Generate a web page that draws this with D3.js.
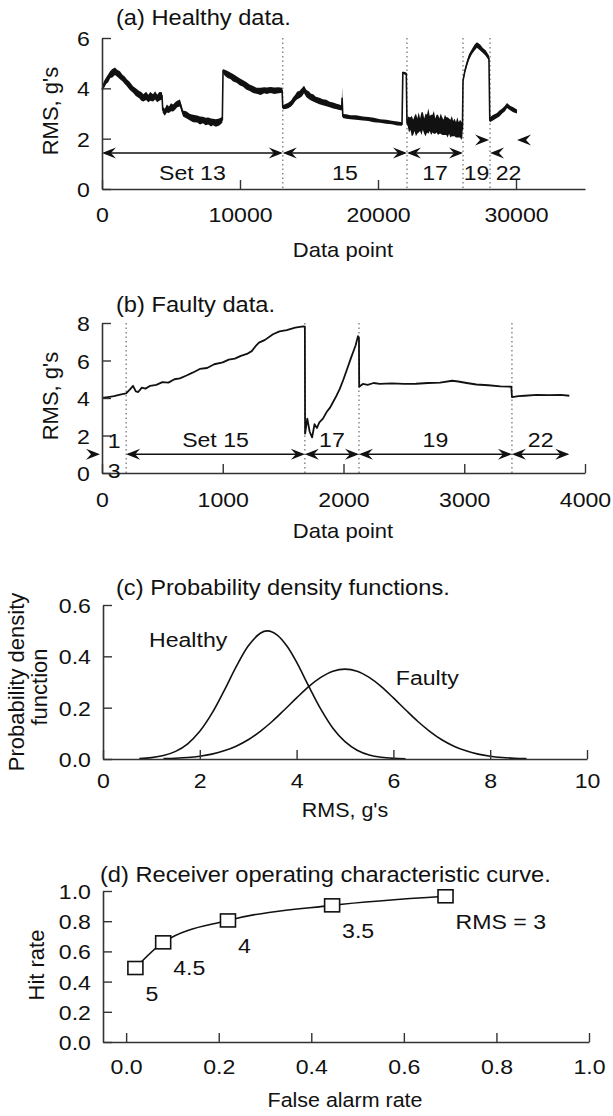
<!DOCTYPE html>
<html><head><meta charset="utf-8">
<script src="https://cdn.jsdelivr.net/npm/d3@7"></script>
<style>
body{margin:0;background:#fff;}
svg text{font-family:"Liberation Sans",Arial,sans-serif;fill:#111;}
</style></head>
<body><svg id="c" width="613" height="1116"></svg>
<script>
// ---------- DATA ----------
// (a) Healthy data: data point, RMS centre, noise half-width
const healthyX = [0,150,300,450,600,750,940,1100,1300,1500,1650,1800,2000,2250,2450,2700,2850,3000,3200,3350,3500,3700,3850,4000,4150,4350,
4400,4550,4700,4850,5000,5150,5300,5450,5650,
5870,6100,6380,6600,6900,7100,7320,7500,7700,7900,8040,8250,8500,8720,
8770,8900,9100,9300,9500,9750,10000,10200,10450,10700,10950,11200,11500,11750,11950,12200,12500,12800,13050,
13100,13300,13500,13700,13840,14000,14150,14300,14500,14640,14800,15000,15150,15300,15500,15750,16000,16250,16500,16750,17000,17200,17370,17400,
17450,17700,18000,18400,18900,19300,19700,20150,20600,21000,21400,21740,21800,22050,22100,
22150,22250,22350,22450,22550,22650,22750,22850,22950,23050,23150,23250,23350,23450,23550,23650,23750,23850,23950,24050,24150,24250,24350,24450,24550,24650,24750,24850,24950,25050,25150,25250,25350,25450,25550,25650,25750,25850,25950,26050,26120,
26160,26300,26450,26600,26800,27000,27170,27400,27600,27800,28040,
28100,28300,28620,28800,29000,29200,29350,29570,29800,30070];
const healthyRMS = [3.95,4.15,4.3,4.4,4.55,4.6,4.68,4.6,4.52,4.4,4.32,4.22,4.1,3.95,3.85,3.75,3.68,3.62,3.7,3.6,3.68,3.62,3.72,3.6,3.68,3.7,
3.15,3.05,3.2,3.15,3.25,3.22,3.3,3.38,3.42,
3.0,2.95,2.85,2.8,2.78,2.72,2.74,2.68,2.7,2.64,2.66,2.62,2.66,2.75,
4.68,4.62,4.55,4.5,4.42,4.35,4.25,4.2,4.1,4.02,3.95,3.9,3.88,3.92,3.9,3.93,3.9,3.92,3.92,
3.25,3.28,3.32,3.4,3.5,3.62,3.72,3.75,3.85,3.95,3.8,3.72,3.65,3.62,3.55,3.5,3.45,3.42,3.36,3.32,3.28,3.25,3.22,3.62,
2.9,2.88,2.85,2.84,2.8,2.78,2.74,2.7,2.67,2.64,2.6,2.58,4.62,4.58,2.6,
2.7,2.55,2.6,2.5,2.45,2.6,2.55,2.5,2.65,2.55,2.6,2.7,2.5,2.55,2.6,2.7,2.6,2.55,2.6,2.65,2.5,2.6,2.55,2.5,2.6,2.5,2.45,2.55,2.5,2.45,2.5,2.4,2.5,2.4,2.45,2.35,2.45,2.35,2.4,2.3,2.4,
4.3,4.7,5.0,5.25,5.45,5.62,5.72,5.62,5.5,5.4,5.2,
2.75,2.82,2.92,3.0,3.1,3.2,3.32,3.22,3.15,3.08];
const healthyNoise = [0.12,0.14,0.13,0.16,0.14,0.17,0.15,0.14,0.16,0.13,0.15,0.14,0.16,0.13,0.15,0.14,0.17,0.14,0.16,0.15,0.17,0.14,0.16,0.15,0.17,0.14,
0.12,0.14,0.16,0.13,0.16,0.14,0.15,0.13,0.14,
0.12,0.14,0.13,0.15,0.14,0.16,0.13,0.15,0.14,0.16,0.13,0.15,0.14,0.12,
0.08,0.12,0.14,0.13,0.15,0.13,0.14,0.13,0.15,0.13,0.14,0.12,0.14,0.12,0.13,0.12,0.13,0.12,0.1,
0.08,0.1,0.11,0.12,0.14,0.13,0.15,0.14,0.16,0.15,0.14,0.15,0.13,0.14,0.12,0.13,0.12,0.13,0.11,0.12,0.11,0.11,0.1,0.43,
0.08,0.09,0.08,0.09,0.08,0.08,0.09,0.07,0.08,0.07,0.08,0.07,0.05,0.05,0.05,
0.2,0.3,0.25,0.4,0.3,0.3,0.45,0.3,0.4,0.25,0.45,0.35,0.3,0.45,0.35,0.5,0.3,0.4,0.35,0.45,0.3,0.35,0.4,0.3,0.4,0.35,0.3,0.4,0.35,0.4,0.3,0.35,0.4,0.3,0.35,0.3,0.4,0.3,0.35,0.35,0.3,
0.08,0.09,0.1,0.11,0.1,0.12,0.11,0.12,0.1,0.11,0.1,
0.1,0.11,0.1,0.12,0.1,0.11,0.1,0.09,0.1,0.08];
const healthyBounds = [0,13100,22100,26160,28120,30800];
const healthyLabels = ["Set 13","15","17","19","22"];
const healthyTicksX = [0,10000,20000,30000];
const healthyTicksY = [0,2,4,6];

// (b) Faulty data
const faultyX = [0,50,100,150,200,230,257,280,300,330,360,400,450,500,550,600,645,700,750,810,870,930,1000,1050,1100,1150,1200,1240,1270,1300,1350,1416,1470,1530,1600,1667,1680,1682,1700,1720,1740,1760,1780,1800,1830,1860,1890,1915,1940,1970,2000,2030,2060,2080,2100,2120,2128,2130,2160,2200,2250,2300,2400,2500,2600,2700,2800,2900,2950,3020,3100,3200,3300,3390,3395,3450,3500,3600,3700,3800,3870];
const faultyRMS = [4.0,4.05,4.1,4.18,4.25,4.45,4.65,4.35,4.32,4.55,4.5,4.65,4.7,4.85,4.82,5.0,5.05,5.2,5.35,5.55,5.6,5.8,5.9,6.05,6.1,6.25,6.35,6.5,6.75,6.95,7.1,7.4,7.55,7.62,7.75,7.82,7.8,2.1,2.9,2.2,1.9,2.6,2.4,2.7,2.9,3.25,3.5,3.8,4.1,4.5,5.0,5.55,6.1,6.45,6.8,7.3,7.2,4.6,4.75,4.7,4.8,4.75,4.78,4.75,4.76,4.8,4.82,4.92,4.88,4.8,4.72,4.68,4.62,4.6,4.05,4.1,4.12,4.17,4.15,4.17,4.12];
const faultyBounds = [0,200,1680,2128,3395,3870];
const faultyLabels = ["13","Set 15","17","19","22"];
const faultyTicksX = [0,1000,2000,3000,4000];
const faultyTicksY = [0,2,4,6,8];

// (c) Probability density functions
const pdfHealthyX = [0.75,1,1.25,1.5,1.75,2,2.25,2.5,2.75,3,3.25,3.4,3.6,3.8,4,4.25,4.5,4.75,5,5.25,5.5,5.75,6,6.25];
const pdfHealthyY = [0.0021,0.0055,0.0135,0.0297,0.0594,0.108,0.1775,0.265,0.3585,0.44,0.49,0.499,0.483,0.44,0.377,0.2836,0.194,0.12,0.0675,0.0344,0.0159,0.0067,0.0025,0.0009];
const pdfFaultyX = [1.25,1.5,1.75,2,2.25,2.5,2.75,3,3.25,3.5,3.75,4,4.25,4.5,4.75,5,5.25,5.5,5.75,6,6.25,6.5,6.75,7,7.25,7.5,7.75,8,8.25,8.5,8.75];
const pdfFaultyY = [0.0016,0.0032,0.006,0.011,0.0191,0.0317,0.05,0.075,0.108,0.147,0.192,0.238,0.282,0.318,0.342,0.35,0.342,0.318,0.282,0.238,0.192,0.147,0.108,0.075,0.05,0.0317,0.0191,0.011,0.006,0.0032,0.0016];
const pdfTicksX = [0,2,4,6,8,10];
const pdfTicksY = [0,0.2,0.4,0.6];

// (d) ROC curve
const falseAlarm = [0.02,0.08,0.22,0.445,0.69];
const hitRate = [0.49,0.66,0.805,0.905,0.965];
const thresholdLabels = ["5","4.5","4","3.5","RMS = 3"];
const rocTicks = [0,0.2,0.4,0.6,0.8,1.0];

// ---------- DRAWING ----------
const SX = 1.1;
const svg = d3.select("#c");

function label(x, y, str, size, anchor) {
  svg.append("text")
    .attr("transform", `translate(${x},${y}) scale(${SX},1)`)
    .attr("text-anchor", anchor || "start")
    .style("font-size", size + "px")
    .text(str);
}
function vlabel(x, y, str, size) {
  svg.append("text")
    .attr("transform", `translate(${x},${y}) rotate(-90)`)
    .attr("text-anchor", "middle")
    .style("font-size", size + "px")
    .text(str);
}
function axes(x, y, ticksX, ticksY, fmtX, fmtY, padX, padY, size) {
  const y0 = y.range()[0], x0 = x.range()[0];
  const gx = svg.append("g").attr("transform", `translate(0,${y0})`)
    .call(d3.axisBottom(x).tickValues(ticksX).tickFormat(fmtX).tickSize(-9).tickSizeOuter(0).tickPadding(padX));
  const gy = svg.append("g").attr("transform", `translate(${x0},0)`)
    .call(d3.axisLeft(y).tickValues(ticksY).tickFormat(fmtY).tickSize(-9).tickSizeOuter(0).tickPadding(padY));
  [gx, gy].forEach(g => {
    g.select(".domain").attr("stroke", "#333").attr("stroke-width", 1.6);
    g.selectAll(".tick line").attr("stroke", "#333").attr("stroke-width", 1.4);
    g.selectAll(".tick text").style("font-size", size + "px").style("font-family", '"Liberation Sans",Arial,sans-serif')
      .attr("fill", "#111").attr("transform", `scale(${SX},1)`);
  });
  gy.selectAll(".tick text").attr("dy", "0.36em");
}
const headPath = "M0,0 L-14,-5.5 L-9,0 L-14,5.5 Z";
function head(x, y, dir) {
  svg.append("path").attr("d", headPath)
    .attr("transform", `translate(${x},${y}) rotate(${dir < 0 ? 180 : 0})`)
    .attr("fill", "#111");
}
function dblArrow(x1, x2, y) {
  svg.append("line").attr("x1", x1 + 2).attr("x2", x2 - 2).attr("y1", y).attr("y2", y)
    .attr("stroke", "#111").attr("stroke-width", 1.6);
  head(x1, y, -1); head(x2, y, 1);
}
function dotted(x, yTop, yBot) {
  svg.append("line").attr("x1", x).attr("x2", x).attr("y1", yTop).attr("y2", yBot)
    .attr("stroke", "#777").attr("stroke-width", 1.3).attr("stroke-dasharray", "1.5,3");
}

// ----- Panel (a) -----
{
  const x = d3.scaleLinear().domain([0, 35000]).range([102, 585]);
  const y = d3.scaleLinear().domain([0, 6]).range([189, 38]);
  healthyBounds.slice(1, 5).forEach(b => dotted(x(b), y(6), y(0)));
  const pts = healthyX.map((d, i) => ({ x: d, v: healthyRMS[i], w: healthyNoise[i] }));
  svg.append("path").datum(pts)
    .attr("d", d3.area().x(d => x(d.x)).y0(d => y(d.v - d.w)).y1(d => y(d.v + d.w)))
    .attr("fill", "#111");
  svg.append("path").datum(pts)
    .attr("d", d3.line().x(d => x(d.x)).y(d => y(d.v)))
    .attr("fill", "none").attr("stroke", "#111").attr("stroke-width", 1.6);
  axes(x, y, healthyTicksX, healthyTicksY, d3.format("d"), d3.format("d"), 18, 11, 21);
  const ay = y(1.43);
  dblArrow(x(healthyBounds[0]), x(healthyBounds[1]), ay);
  dblArrow(x(healthyBounds[1]), x(healthyBounds[2]), ay);
  dblArrow(x(healthyBounds[2]), x(healthyBounds[3]), ay);
  head(x(healthyBounds[4]) - 1, y(1.95), 1);
  head(x(healthyBounds[4]), ay, -1);
  head(x(healthyBounds[4]) + 27, y(1.95), -1);
  healthyLabels.forEach((t, i) => {
    label(x((healthyBounds[i] + healthyBounds[i + 1]) / 2), 180, t, 21, "middle");
  });
  label(116, 25, "(a) Healthy data.", 21.5);
  label(343, 257, "Data point", 20, "middle");
  vlabel(58, 111, "RMS, g's", 22);
}

// ----- Panel (b) -----
{
  const x = d3.scaleLinear().domain([0, 4000]).range([102, 585]);
  const y = d3.scaleLinear().domain([0, 8]).range([473, 323]);
  faultyBounds.slice(1, 5).forEach(b => dotted(x(b), y(8), y(0)));
  svg.append("path").datum(faultyX.map((d, i) => [d, faultyRMS[i]]))
    .attr("d", d3.line().x(d => x(d[0])).y(d => y(d[1])))
    .attr("fill", "none").attr("stroke", "#111").attr("stroke-width", 1.8).attr("stroke-linejoin", "round");
  axes(x, y, faultyTicksX, faultyTicksY, d3.format("d"), d3.format("d"), 19, 11, 21);
  const ay = y(1.0);
  head(x(faultyBounds[0]) - 2, ay, 1);
  for (let i = 1; i < 5; i++) dblArrow(x(faultyBounds[i]), x(faultyBounds[i + 1]), ay);
  faultyLabels.forEach((t, i) => {
    const cx = x((faultyBounds[i] + faultyBounds[i + 1]) / 2);
    if (i === 0) {
      label(cx, 448, t[0], 21, "middle");
      label(cx, 478, t[1], 21, "middle");
    } else {
      label(cx, 447, t, 21, "middle");
    }
  });
  label(116, 312, "(b) Faulty data.", 21.5);
  label(343, 538, "Data point", 20, "middle");
  vlabel(58, 396, "RMS, g's", 22);
}

// ----- Panel (c) -----
{
  const x = d3.scaleLinear().domain([0, 10]).range([103, 587]);
  const y = d3.scaleLinear().domain([0, 0.6]).range([759, 605]);
  const line = d3.line().x(d => x(d[0])).y(d => y(d[1])).curve(d3.curveCatmullRom);
  svg.append("path").datum(pdfHealthyX.map((d, i) => [d, pdfHealthyY[i]])).attr("d", line)
    .attr("fill", "none").attr("stroke", "#111").attr("stroke-width", 1.6);
  svg.append("path").datum(pdfFaultyX.map((d, i) => [d, pdfFaultyY[i]])).attr("d", line)
    .attr("fill", "none").attr("stroke", "#111").attr("stroke-width", 1.6);
  axes(x, y, pdfTicksX, pdfTicksY, d3.format("d"), d3.format(".1f"), 14, 11, 21);
  label(x(0.95), y(0.436), "Healthy", 21);
  label(x(6.05), y(0.288), "Faulty", 21);
  label(116, 595, "(c) Probability density functions.", 21.5);
  label(345, 817, "RMS, g's", 19.5, "middle");
  vlabel(24, 682, "Probability density", 22);
  vlabel(47, 687, "function", 22);
}

// ----- Panel (d) -----
{
  const x = d3.scaleLinear().domain([-0.05, 1.0]).range([103, 589]);
  const y = d3.scaleLinear().domain([0, 1.0]).range([1042, 891]);
  axes(x, y, rocTicks, rocTicks, d3.format(".1f"), d3.format(".1f"), 17, 11, 21);
  const pts = falseAlarm.map((d, i) => [d, hitRate[i]]);
  svg.append("path").datum(pts)
    .attr("d", d3.line().x(d => x(d[0])).y(d => y(d[1])).curve(d3.curveMonotoneX))
    .attr("fill", "none").attr("stroke", "#111").attr("stroke-width", 1.6);
  svg.selectAll("rect.m").data(pts).enter().append("rect").attr("class", "m")
    .attr("x", d => x(d[0]) - 7.5).attr("y", d => y(d[1]) - 6.5)
    .attr("width", 15).attr("height", 13)
    .attr("fill", "#fff").attr("stroke", "#111").attr("stroke-width", 1.6);
  thresholdLabels.forEach((t, i) => label(x(falseAlarm[i]) + 10, y(hitRate[i]) + 33, t, 21));
  label(100, 882, "(d) Receiver operating characteristic curve.", 21.5);
  label(345, 1107, "False alarm rate", 19.5, "middle");
  vlabel(44, 965, "Hit rate", 22);
}
</script></body></html>
